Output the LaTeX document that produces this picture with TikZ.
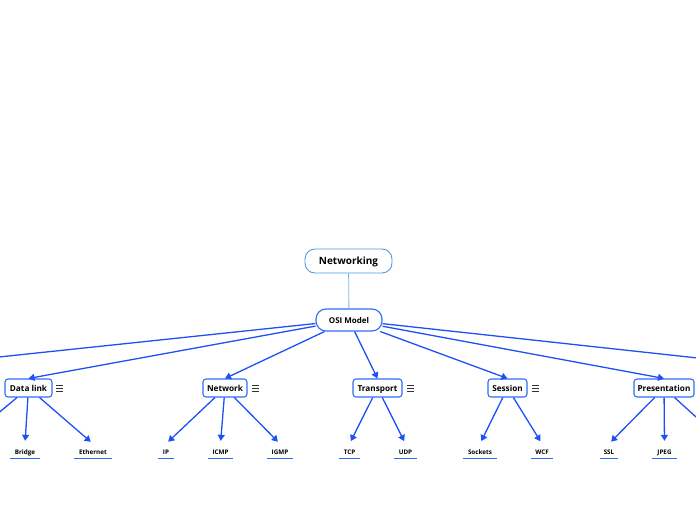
\documentclass[tikz,border=0pt]{standalone}
\usepackage{fontspec}
\setmainfont{Open Sans}
\usetikzlibrary{arrows.meta,calc}
\definecolor{edgeblue}{HTML}{1F50F5}
\definecolor{boxblue}{HTML}{2E6BFA}
\definecolor{rootblue}{HTML}{4A9BE8}
\definecolor{linkblue}{HTML}{7AB3EA}
\definecolor{icongray}{HTML}{333333}
\tikzset{
  rootbox/.style={draw=rootblue,line width=0.9pt,rounded corners=10pt,minimum width=87pt,minimum height=24pt,inner sep=0pt,text height=0.72em,text depth=0pt,font=\fontsize{10}{12}\selectfont\bfseries},
  mainbox/.style={draw=boxblue,line width=1.1pt,rounded corners=10pt,minimum width=66pt,minimum height=22pt,inner sep=0pt,text height=0.72em,text depth=0pt,font=\fontsize{8}{10}\selectfont\bfseries},
  layerbox/.style={draw=boxblue,line width=1.1pt,rounded corners=3pt,minimum height=18pt,inner sep=0pt,text height=0.72em,text depth=0pt,font=\fontsize{8.2}{10}\selectfont\bfseries},
  leaf/.style={minimum height=14pt,inner sep=0pt,text height=0.72em,text depth=0pt,font=\fontsize{6.3}{8}\selectfont\bfseries,
    append after command={(\tikzlastnode.south west) edge[draw=boxblue,line width=1.1pt] (\tikzlastnode.south east)}},
  link/.style={draw=edgeblue,line width=1.3pt,-{Triangle[width=7pt,length=6pt]}},
  sublink/.style={link,shorten >=3pt},
  plainlink/.style={draw=edgeblue,line width=1.3pt},
  menuicon/.pic={\draw[icongray,line width=0.7pt] (-3.5,-3)--(3.5,-3) (-3.5,0)--(3.5,0) (-3.5,3)--(3.5,3);}
}
\begin{document}
\begin{tikzpicture}[x=1pt,y=-1pt]
\useasboundingbox (0,0) rectangle (696,520);
\clip (0,0) rectangle (696,520);
\node[rootbox] (net) at (348.5,261) {Networking};
\node[mainbox] (osi) at (349,320) {OSI Model};
\draw[linkblue,line width=0.8pt] (net) -- (osi);

\node[layerbox,minimum width=47pt] (dl) at (28.5,388) {Data link};
\node[layerbox,minimum width=44pt] (nw) at (225,388) {Network};
\node[layerbox,minimum width=49pt] (tr) at (377.5,388) {Transport};
\node[layerbox,minimum width=39pt] (se) at (507.5,388) {Session};
\node[layerbox,minimum width=60pt] (pr) at (664,388) {Presentation};

\pic at ($(dl.east)+(7,0)$) {menuicon};
\pic at ($(nw.east)+(8,0)$) {menuicon};
\pic at ($(tr.east)+(8,0)$) {menuicon};
\pic at ($(se.east)+(8,0)$) {menuicon};

\coordinate (offl) at (-20,359);
\coordinate (offr) at (716,360);
\draw[link] (osi) -- (dl.north);
\draw[link] (osi) -- (nw.north);
\draw[link] (osi) -- (tr.north);
\draw[link] (osi) -- (se.north);
\draw[link] (osi) -- (pr.north);
\draw[plainlink] (osi) -- (offl);
\draw[plainlink] (osi) -- (offr);

\node[leaf,minimum width=30pt] (bridge) at (25,451) {Bridge};
\node[leaf,minimum width=38pt] (eth) at (93,451) {Ethernet};
\node[leaf,minimum width=16pt] (ip) at (166,451) {IP};
\node[leaf,minimum width=25pt] (icmp) at (220.5,451) {ICMP};
\node[leaf,minimum width=26pt] (igmp) at (280,451) {IGMP};
\node[leaf,minimum width=21pt] (tcp) at (349.5,451) {TCP};
\node[leaf,minimum width=23pt] (udp) at (405.5,451) {UDP};
\node[leaf,minimum width=34pt] (sock) at (480,451) {Sockets};
\node[leaf,minimum width=22pt] (wcf) at (542,451) {WCF};
\node[leaf,minimum width=18pt] (ssl) at (609,451) {SSL};
\node[leaf,minimum width=25pt] (jpeg) at (664.5,451) {JPEG};

\coordinate (offdl) at (-10,420);
\coordinate (offpr) at (706,426);
\draw[sublink] (dl) -- (bridge.north);
\draw[sublink] (dl) -- (eth.north);
\draw[plainlink] (dl) -- (offdl);
\draw[sublink] (nw) -- (ip.north);
\draw[sublink] (nw) -- (icmp.north);
\draw[sublink] (nw) -- (igmp.north);
\draw[sublink] (tr) -- (tcp.north);
\draw[sublink] (tr) -- (udp.north);
\draw[sublink] (se) -- (sock.north);
\draw[sublink] (se) -- (wcf.north);
\draw[sublink] (pr) -- (ssl.north);
\draw[sublink] (pr) -- (jpeg.north);
\draw[plainlink] (pr) -- (offpr);
\end{tikzpicture}
\end{document}
